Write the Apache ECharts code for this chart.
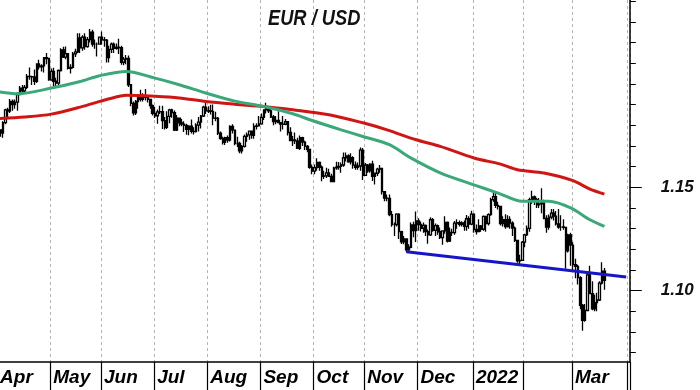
<!DOCTYPE html>
<html><head><meta charset="utf-8">
<script src="https://cdn.jsdelivr.net/npm/echarts@6/dist/echarts.min.js"></script>
<style>html,body{margin:0;padding:0;background:#fff}#c{width:700px;height:390px}</style>
</head><body><div id="c"></div>
<script>
// Daily bars [open, high, low, close]
const apr21 = [[1.1730,1.1790,1.1717,1.1778],[1.1778,1.1780,1.1745,1.1762],[1.1762,1.1820,1.1740,1.1813],[1.1813,1.1880,1.1805,1.1875],[1.1875,1.1885,1.1835,1.1869],[1.1869,1.1927,1.1860,1.1915],[1.1915,1.1925,1.1870,1.1900],[1.1900,1.1925,1.1880,1.1912],[1.1912,1.1960,1.1870,1.1948],[1.1948,1.1990,1.1945,1.1980],[1.1980,1.1995,1.1950,1.1966],[1.1966,1.1995,1.1955,1.1983],[1.1983,1.2048,1.1975,1.2036],[1.2036,1.2080,1.2020,1.2035],[1.2035,1.2040,1.1995,1.2034],[1.2034,1.2070,1.1995,1.2013],[1.2013,1.2100,1.2005,1.2097],[1.2097,1.2117,1.2070,1.2083],[1.2083,1.2095,1.2060,1.2087],[1.2087,1.2130,1.2055,1.2127],[1.2127,1.2150,1.2095,1.2123],[1.2123,1.2125,1.2015,1.2020]];
const may21 = [[1.2020,1.2075,1.2015,1.2061],[1.2061,1.2078,1.1985,1.2013],[1.2013,1.2030,1.1990,1.2004],[1.2004,1.2070,1.1995,1.2065],[1.2065,1.2173,1.2060,1.2165],[1.2165,1.2180,1.2125,1.2130],[1.2130,1.2181,1.2120,1.2147],[1.2147,1.2150,1.2070,1.2075],[1.2075,1.2095,1.2051,1.2080],[1.2080,1.2155,1.2075,1.2145],[1.2145,1.2170,1.2130,1.2155],[1.2155,1.2245,1.2150,1.2223],[1.2223,1.2245,1.2150,1.2174],[1.2174,1.2235,1.2160,1.2226],[1.2226,1.2245,1.2165,1.2180],[1.2180,1.2227,1.2175,1.2214],[1.2214,1.2266,1.2200,1.2250],[1.2250,1.2262,1.2180,1.2193],[1.2193,1.2215,1.2170,1.2193],[1.2193,1.2200,1.2133,1.2193],[1.2193,1.2230,1.2190,1.2226]];
const jun21 = [[1.2226,1.2254,1.2191,1.2213],[1.2213,1.2227,1.2180,1.2212],[1.2212,1.2217,1.2104,1.2127],[1.2127,1.2185,1.2104,1.2167],[1.2167,1.2200,1.2150,1.2193],[1.2193,1.2200,1.2150,1.2172],[1.2172,1.2195,1.2165,1.2178],[1.2178,1.2218,1.2145,1.2175],[1.2175,1.2185,1.2093,1.2105],[1.2105,1.2130,1.2090,1.2120],[1.2120,1.2140,1.2095,1.2124],[1.2124,1.2138,1.1985,1.1996],[1.1996,1.2000,1.1892,1.1906],[1.1906,1.1915,1.1847,1.1860],[1.1860,1.1922,1.1850,1.1915],[1.1915,1.1940,1.1880,1.1940],[1.1940,1.1972,1.1915,1.1925],[1.1925,1.1955,1.1915,1.1935],[1.1935,1.1975,1.1920,1.1938],[1.1938,1.1945,1.1910,1.1925],[1.1925,1.1928,1.1880,1.1895],[1.1895,1.1900,1.1847,1.1858]];
const jul21 = [[1.1858,1.1890,1.1835,1.1846],[1.1846,1.1876,1.1807,1.1865],[1.1865,1.1895,1.1855,1.1866],[1.1866,1.1895,1.1782,1.1823],[1.1823,1.1840,1.1780,1.1790],[1.1790,1.1868,1.1782,1.1843],[1.1843,1.1880,1.1810,1.1875],[1.1875,1.1880,1.1837,1.1861],[1.1861,1.1872,1.1772,1.1777],[1.1777,1.1850,1.1772,1.1834],[1.1834,1.1838,1.1795,1.1812],[1.1812,1.1830,1.1795,1.1806],[1.1806,1.1820,1.1768,1.1800],[1.1800,1.1808,1.1754,1.1780],[1.1780,1.1800,1.1752,1.1796],[1.1796,1.1828,1.1760,1.1771],[1.1771,1.1790,1.1755,1.1770],[1.1770,1.1810,1.1765,1.1801],[1.1801,1.1840,1.1770,1.1815],[1.1815,1.1850,1.1785,1.1845],[1.1845,1.1895,1.1840,1.1888],[1.1888,1.1908,1.1855,1.1870]];
const aug21 = [[1.1870,1.1892,1.1860,1.1869],[1.1869,1.1899,1.1852,1.1867],[1.1867,1.1900,1.1800,1.1835],[1.1835,1.1865,1.1820,1.1834],[1.1834,1.1840,1.1753,1.1762],[1.1762,1.1770,1.1730,1.1736],[1.1736,1.1745,1.1707,1.1718],[1.1718,1.1745,1.1705,1.1740],[1.1740,1.1750,1.1715,1.1728],[1.1728,1.1800,1.1722,1.1795],[1.1795,1.1805,1.1760,1.1777],[1.1777,1.1780,1.1703,1.1712],[1.1712,1.1745,1.1695,1.1712],[1.1712,1.1720,1.1665,1.1676],[1.1676,1.1705,1.1664,1.1698],[1.1698,1.1755,1.1692,1.1746],[1.1746,1.1765,1.1720,1.1754],[1.1754,1.1775,1.1730,1.1772],[1.1772,1.1775,1.1735,1.1751],[1.1751,1.1810,1.1735,1.1795],[1.1795,1.1810,1.1780,1.1797],[1.1797,1.1845,1.1795,1.1807]];
const sep21 = [[1.1807,1.1857,1.1802,1.1838],[1.1838,1.1875,1.1825,1.1875],[1.1875,1.1909,1.1857,1.1880],[1.1880,1.1885,1.1860,1.1870],[1.1870,1.1885,1.1835,1.1840],[1.1840,1.1850,1.1800,1.1818],[1.1818,1.1845,1.1805,1.1824],[1.1824,1.1868,1.1810,1.1813],[1.1813,1.1815,1.1770,1.1806],[1.1806,1.1845,1.1780,1.1805],[1.1805,1.1830,1.1800,1.1817],[1.1817,1.1820,1.1750,1.1765],[1.1765,1.1790,1.1725,1.1726],[1.1726,1.1748,1.1700,1.1729],[1.1729,1.1765,1.1710,1.1725],[1.1725,1.1740,1.1685,1.1688],[1.1688,1.1750,1.1680,1.1740],[1.1740,1.1745,1.1700,1.1719],[1.1719,1.1725,1.1680,1.1698],[1.1698,1.1705,1.1670,1.1683],[1.1683,1.1685,1.1590,1.1597],[1.1597,1.1610,1.1563,1.1578]];
const oct21 = [[1.1578,1.1610,1.1563,1.1595],[1.1595,1.1640,1.1580,1.1620],[1.1620,1.1625,1.1580,1.1597],[1.1597,1.1605,1.1529,1.1553],[1.1553,1.1580,1.1540,1.1555],[1.1555,1.1595,1.1545,1.1570],[1.1570,1.1590,1.1550,1.1553],[1.1553,1.1565,1.1524,1.1527],[1.1527,1.1600,1.1525,1.1594],[1.1594,1.1624,1.1585,1.1598],[1.1598,1.1623,1.1585,1.1601],[1.1601,1.1620,1.1570,1.1608],[1.1608,1.1668,1.1600,1.1643],[1.1643,1.1668,1.1625,1.1652],[1.1652,1.1660,1.1619,1.1623],[1.1623,1.1665,1.1610,1.1643],[1.1643,1.1650,1.1590,1.1607],[1.1607,1.1625,1.1585,1.1597],[1.1597,1.1620,1.1585,1.1603],[1.1603,1.1692,1.1580,1.1680],[1.1680,1.1690,1.1535,1.1558]];
const nov21 = [[1.1558,1.1617,1.1560,1.1607],[1.1607,1.1613,1.1570,1.1580],[1.1580,1.1616,1.1570,1.1612],[1.1612,1.1628,1.1530,1.1553],[1.1553,1.1570,1.1513,1.1568],[1.1568,1.1595,1.1555,1.1588],[1.1588,1.1608,1.1570,1.1591],[1.1591,1.1595,1.1465,1.1479],[1.1479,1.1480,1.1432,1.1448],[1.1448,1.1465,1.1433,1.1446],[1.1446,1.1465,1.1360,1.1368],[1.1368,1.1385,1.1309,1.1320],[1.1320,1.1330,1.1264,1.1320],[1.1320,1.1375,1.1310,1.1370],[1.1370,1.1375,1.1250,1.1286],[1.1286,1.1290,1.1226,1.1236],[1.1236,1.1265,1.1225,1.1250],[1.1250,1.1250,1.1186,1.1198],[1.1198,1.1225,1.1192,1.1210],[1.1210,1.1330,1.1205,1.1318],[1.1318,1.1333,1.1258,1.1290],[1.1290,1.1383,1.1235,1.1338]];
const dec21 = [[1.1338,1.1350,1.1290,1.1320],[1.1320,1.1335,1.1286,1.1302],[1.1302,1.1330,1.1280,1.1316],[1.1316,1.1320,1.1265,1.1286],[1.1286,1.1296,1.1227,1.1270],[1.1270,1.1355,1.1265,1.1343],[1.1343,1.1352,1.1285,1.1292],[1.1292,1.1325,1.1265,1.1315],[1.1315,1.1320,1.1270,1.1285],[1.1285,1.1305,1.1250,1.1257],[1.1257,1.1290,1.1222,1.1289],[1.1289,1.1360,1.1275,1.1330],[1.1330,1.1335,1.1233,1.1240],[1.1240,1.1305,1.1235,1.1282],[1.1282,1.1300,1.1265,1.1281],[1.1281,1.1337,1.1270,1.1327],[1.1327,1.1346,1.1300,1.1329],[1.1329,1.1340,1.1310,1.1321],[1.1321,1.1336,1.1310,1.1328],[1.1328,1.1340,1.1290,1.1311],[1.1311,1.1366,1.1290,1.1348],[1.1348,1.1360,1.1300,1.1322],[1.1322,1.1386,1.1317,1.1370]];
const jan22 = [[1.1370,1.1375,1.1280,1.1296],[1.1296,1.1320,1.1272,1.1286],[1.1286,1.1346,1.1285,1.1313],[1.1313,1.1318,1.1285,1.1297],[1.1297,1.1364,1.1290,1.1359],[1.1359,1.1360,1.1285,1.1325],[1.1325,1.1375,1.1315,1.1368],[1.1368,1.1450,1.1362,1.1440],[1.1440,1.1482,1.1430,1.1455],[1.1455,1.1480,1.1400,1.1413],[1.1413,1.1430,1.1393,1.1408],[1.1408,1.1410,1.1315,1.1325],[1.1325,1.1360,1.1310,1.1343],[1.1343,1.1370,1.1300,1.1310],[1.1310,1.1365,1.1305,1.1345],[1.1345,1.1360,1.1300,1.1327],[1.1327,1.1336,1.1265,1.1303],[1.1303,1.1310,1.1236,1.1243],[1.1243,1.1245,1.1135,1.1144],[1.1144,1.1174,1.1121,1.1147],[1.1147,1.1240,1.1145,1.1235]];
const feb22 = [[1.1235,1.1275,1.1210,1.1270],[1.1270,1.1315,1.1265,1.1301],[1.1301,1.1450,1.1285,1.1440],[1.1440,1.1483,1.1420,1.1454],[1.1454,1.1460,1.1415,1.1440],[1.1440,1.1450,1.1400,1.1415],[1.1415,1.1448,1.1400,1.1420],[1.1420,1.1495,1.1375,1.1425],[1.1425,1.1440,1.1350,1.1349],[1.1349,1.1365,1.1280,1.1307],[1.1307,1.1368,1.1295,1.1356],[1.1356,1.1395,1.1345,1.1375],[1.1375,1.1395,1.1340,1.1361],[1.1361,1.1385,1.1315,1.1323],[1.1323,1.1395,1.1300,1.1308],[1.1308,1.1365,1.1290,1.1308],[1.1308,1.1345,1.1295,1.1306],[1.1306,1.1308,1.1106,1.1193],[1.1193,1.1275,1.1185,1.1270],[1.1270,1.1280,1.1120,1.1220]];
const mar22 = [[1.1220,1.1235,1.1090,1.1126],[1.1126,1.1155,1.1060,1.1118],[1.1118,1.1125,1.1030,1.1063],[1.1063,1.1070,1.0910,1.0929],[1.0929,1.0935,1.0806,1.0856],[1.0856,1.0935,1.0850,1.0904],[1.0904,1.1090,1.0900,1.1076],[1.1076,1.1120,1.0985,1.0986],[1.0986,1.1045,1.0905,1.0912],[1.0912,1.0980,1.0900,1.0942],[1.0942,1.0990,1.0900,1.0955],[1.0955,1.1045,1.0950,1.1037],[1.1037,1.1137,1.1030,1.1094],[1.1094,1.1110,1.1005,1.1050]];

// Moving-average lines [date, value]
const greenLine = [['2021-04-01',1.1962],['2021-04-13',1.1952],['2021-05-03',1.1980],['2021-05-19',1.2012],['2021-05-31',1.2040],['2021-06-15',1.2060],['2021-07-01',1.2028],['2021-07-15',1.1996],['2021-07-30',1.1956],['2021-08-17',1.1917],['2021-09-02',1.1891],['2021-09-20',1.1856],['2021-09-30',1.1823],['2021-10-18',1.1778],['2021-10-29',1.1746],['2021-11-15',1.1706],['2021-11-26',1.1641],['2021-12-14',1.1570],['2022-01-03',1.1512],['2022-01-17',1.1472],['2022-01-31',1.1432],['2022-02-15',1.1432],['2022-02-28',1.1400],['2022-03-10',1.1343],['2022-03-18',1.1311]];
const redLine = [['2021-04-01',1.1832],['2021-04-16',1.1840],['2021-05-03',1.1854],['2021-05-19',1.1888],['2021-06-04',1.1928],['2021-06-15',1.1945],['2021-07-01',1.1940],['2021-07-15',1.1932],['2021-07-30',1.1915],['2021-08-17',1.1902],['2021-09-02',1.1891],['2021-09-20',1.1875],['2021-10-11',1.1851],['2021-10-29',1.1812],['2021-11-12',1.1778],['2021-11-30',1.1730],['2021-12-14',1.1698],['2022-01-03',1.1642],['2022-01-18',1.1612],['2022-01-27',1.1585],['2022-02-11',1.1569],['2022-03-01',1.1532],['2022-03-10',1.1491],['2022-03-18',1.1467]];
const trendLine = [['2021-11-24',1.1188],['2022-03-31',1.1066]];

// Axis labels
const monthLabels = ['Apr','May','Jun','Jul','Aug','Sep','Oct','Nov','Dec','2022','','Mar'];
const minorTicks = [1.07,1.08,1.09,1.10,1.11,1.12,1.13,1.14,1.15,1.16,1.17,1.18,1.19,1.20,1.21,1.22,1.23,1.24];
const majorTicks = [1.10,1.15];
const titleText = 'EUR / USD';

// trading-day categories (weekdays)
const dates = [];
const pad = n => (n < 10 ? '0' : '') + n;
for (let t = Date.UTC(2021,3,1); t <= Date.UTC(2022,3,1); t += 86400000) {
  const d = new Date(t), wd = d.getUTCDay();
  if (wd === 0 || wd === 6) continue;
  dates.push(d.getUTCFullYear() + '-' + pad(d.getUTCMonth()+1) + '-' + pad(d.getUTCDate()));
}
const monthStart = {};
let mCount = 0;
dates.forEach((s, i) => {
  if (i === 0 || s.slice(5,7) !== dates[i-1].slice(5,7)) { monthStart[i] = mCount++; }
});
const isMonthStart = i => monthStart[i] !== undefined;

const bars = [].concat(apr21, may21, jun21, jul21, aug21, sep21, oct21, nov21, dec21, jan22, feb22, mar22)
  .map(r => [r[0], r[3], r[2], r[1]]);

const FONT = "'Liberation Sans', Arial, sans-serif";
const chart = echarts.init(document.getElementById('c'), null, {renderer: 'canvas'});
chart.setOption({
  animation: false,
  backgroundColor: '#fff',
  graphic: [{ type: 'text', x: 268, y: 19, scaleX: 0.83, z: 10,
    style: { text: titleText, fontFamily: FONT, fontSize: 22, fontWeight: 'bold', fontStyle: 'italic',
      fill: '#111', align: 'left', verticalAlign: 'middle' } }],
  grid: { left: -3.1, right: 70.2, top: 0, bottom: 28, outerBoundsMode: 'none' },
  xAxis: {
    type: 'category', data: dates, boundaryGap: true,
    axisLine: { lineStyle: { color: '#000', width: 1.5 } },
    axisTick: { show: true, interval: i => isMonthStart(i), length: 28, lineStyle: { color: '#000', width: 1.2 } },
    axisLabel: { interval: i => isMonthStart(i), align: 'left', margin: 6, padding: [0,0,0,2],
      fontFamily: FONT, fontSize: 19, fontWeight: 'bold', fontStyle: 'italic', color: '#000',
      formatter: (v, i) => (isMonthStart(i) ? (monthLabels[monthStart[i]] || '') : '') },
    splitLine: { show: true, interval: i => isMonthStart(i), lineStyle: { color: '#b4b4b4', type: [3,3], width: 1 } }
  },
  yAxis: [
    { type: 'value', position: 'right', min: 1.0655, max: 1.2406, scale: true,
      axisLine: { show: true, lineStyle: { color: '#000', width: 1.5 } },
      axisTick: { show: true, length: 6, customValues: minorTicks, lineStyle: { color: '#000', width: 1 } },
      axisLabel: { show: false }, splitLine: { show: false } },
    { type: 'value', position: 'right', min: 1.0655, max: 1.2406, scale: true,
      axisLine: { show: false },
      axisTick: { show: true, length: 12, customValues: majorTicks, lineStyle: { color: '#000', width: 1 } },
      axisLabel: { show: true, customValues: majorTicks, align: 'right', margin: 64, padding: [7,0,0,0],
        formatter: v => v.toFixed(2),
        fontFamily: FONT, fontSize: 17, fontWeight: 'bold', fontStyle: 'italic', color: '#111' },
      splitLine: { show: false } }
  ],
  series: [
    { type: 'candlestick', data: bars, barWidth: 2, z: 2,
      itemStyle: { color: '#fff', color0: '#000', borderColor: '#000', borderColor0: '#000', borderWidth: 1.3 } },
    { type: 'line', data: redLine, showSymbol: false, smooth: 0.3, z: 3,
      lineStyle: { color: '#d01515', width: 3 } },
    { type: 'line', data: greenLine, showSymbol: false, smooth: 0.3, z: 3,
      lineStyle: { color: '#3aa878', width: 3 } },
    { type: 'line', data: trendLine, showSymbol: false, z: 4,
      lineStyle: { color: '#1616c8', width: 3 } }
  ]
});
</script></body></html>
